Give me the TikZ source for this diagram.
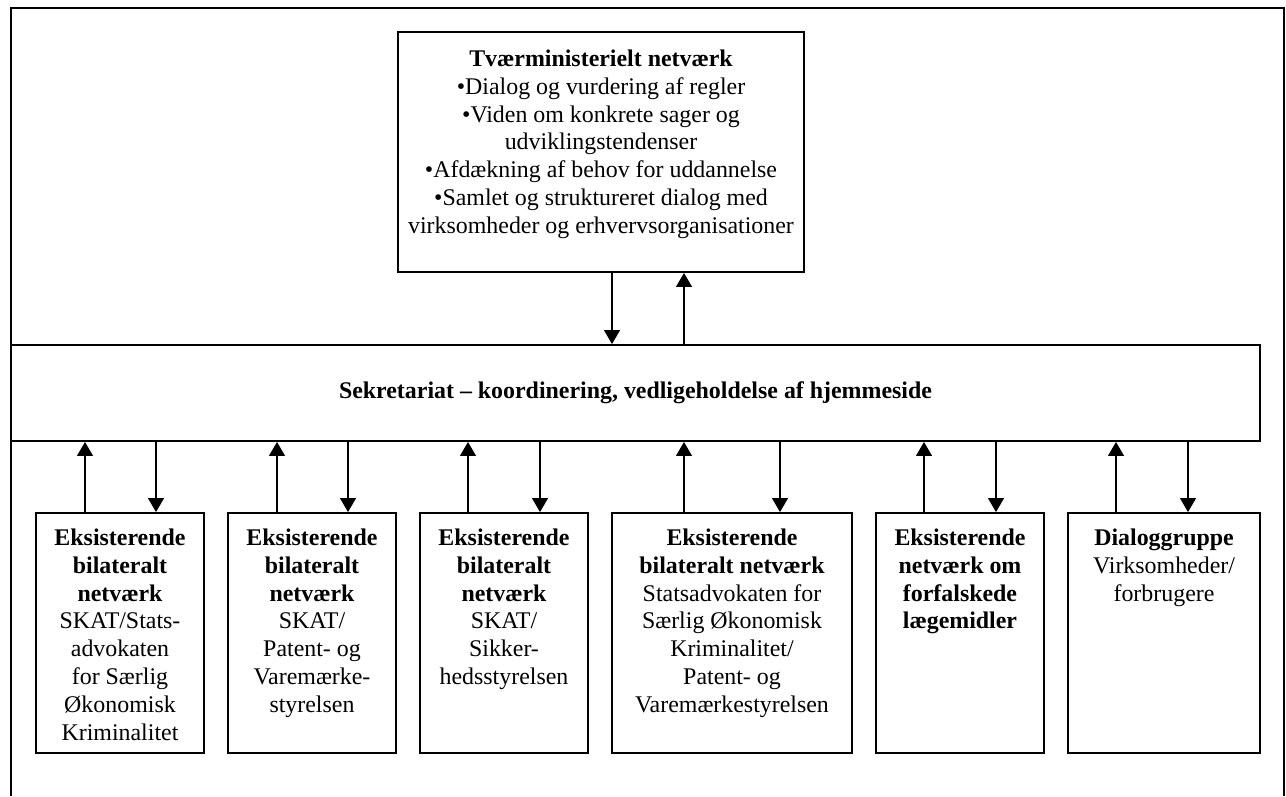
\documentclass[tikz,border=0pt]{standalone}
\usepackage{fontspec}
\setmainfont{Liberation Serif}
\usetikzlibrary{arrows.meta,positioning,calc}

\begin{document}
\begin{tikzpicture}[->,>={Triangle[length=0.28cm,width=0.32cm]},line width=0.75pt,
 box/.style={draw, line width=1.1pt, minimum height=4.8cm},
 txt/.style={anchor=north, inner sep=0pt},
 font=\fontsize{13.6}{15.8}\selectfont]
\useasboundingbox (0,0) rectangle (25.72,-15.92);
% outer frame, open at the bottom
\draw[-, line width=1.1pt] (0.22,-15.92) -- (0.22,-0.16) -- (25.68,-0.16) -- (25.68,-15.92);

\node[box, minimum width=8.12cm] (tv) at (12.02,-3.04) {};
\node[txt] (tv_t) at ([yshift=-0.31cm]tv.north) {\begin{tabular}{c} \textbf{Tværministerielt netværk} \\ •Dialog og vurdering af regler \\ •Viden om konkrete sager og \\ udviklingstendenser \\ •Afdækning af behov for uddannelse \\ •Samlet og struktureret dialog med \\ virksomheder og erhvervsorganisationer \end{tabular}};

\node[draw, line width=1.1pt, minimum width=24.98cm, minimum height=1.92cm] (sek) at (12.71,-7.86) {\textbf{Sekretariat – koordinering, vedligeholdelse af hjemmeside}};

\node[box, minimum width=3.36cm] (b1) at (2.40,-12.66) {};
\node[box, minimum width=3.36cm] (b2) at (6.24,-12.66) {};
\node[box, minimum width=3.36cm] (b3) at (10.08,-12.66) {};
\node[box, minimum width=4.8cm] (b4) at (14.64,-12.66) {};
\node[box, minimum width=3.36cm] (b5) at (19.2,-12.66) {};
\node[box, minimum width=3.84cm] (b6) at (23.28,-12.66) {};

\node[txt] (b1_t) at ([yshift=-0.27cm]b1.north) {\begin{tabular}{c} \textbf{Eksisterende} \\ \textbf{bilateralt} \\ \textbf{netværk} \\ SKAT/Stats- \\ advokaten \\ for Særlig \\ Økonomisk \\ Kriminalitet \end{tabular}};
\node[txt] (b2_t) at ([yshift=-0.27cm]b2.north) {\begin{tabular}{c} \textbf{Eksisterende} \\ \textbf{bilateralt} \\ \textbf{netværk} \\ SKAT/ \\ Patent- og \\ Varemærke- \\ styrelsen \end{tabular}};
\node[txt] (b3_t) at ([yshift=-0.27cm]b3.north) {\begin{tabular}{c} \textbf{Eksisterende} \\ \textbf{bilateralt} \\ \textbf{netværk} \\ SKAT/ \\ Sikker- \\ hedsstyrelsen \end{tabular}};
\node[txt] (b4_t) at ([yshift=-0.27cm]b4.north) {\begin{tabular}{c} \textbf{Eksisterende} \\ \textbf{bilateralt netværk} \\ Statsadvokaten for \\ Særlig Økonomisk \\ Kriminalitet/ \\ Patent- og \\ Varemærkestyrelsen \end{tabular}};
\node[txt] (b5_t) at ([yshift=-0.27cm]b5.north) {\begin{tabular}{c} \textbf{Eksisterende} \\ \textbf{netværk om} \\ \textbf{forfalskede} \\ \textbf{lægemidler} \end{tabular}};
\node[txt] (b6_t) at ([yshift=-0.27cm]b6.north) {\begin{tabular}{c} \textbf{Dialoggruppe} \\ Virksomheder/ \\ forbrugere \end{tabular}};

% network <-> secretariat
\draw ([xshift=0.22cm]tv.south) -- ([xshift=0.22cm]tv.south |- sek.north);
\draw ([xshift=1.66cm]tv.south |- sek.north) -- ([xshift=1.66cm]tv.south);

% secretariat <-> groups
\foreach \b/\u/\d in {b1/-0.70/0.72, b2/-0.70/0.72, b3/-0.72/0.72, b4/-0.96/0.96, b5/-0.72/0.72, b6/-0.96/0.48} {
  \draw ([xshift=\u cm]\b.north) -- ([xshift=\u cm]\b.north |- sek.south);
  \draw ([xshift=\d cm]\b.north |- sek.south) -- ([xshift=\d cm]\b.north);
}
\end{tikzpicture}
\end{document}
